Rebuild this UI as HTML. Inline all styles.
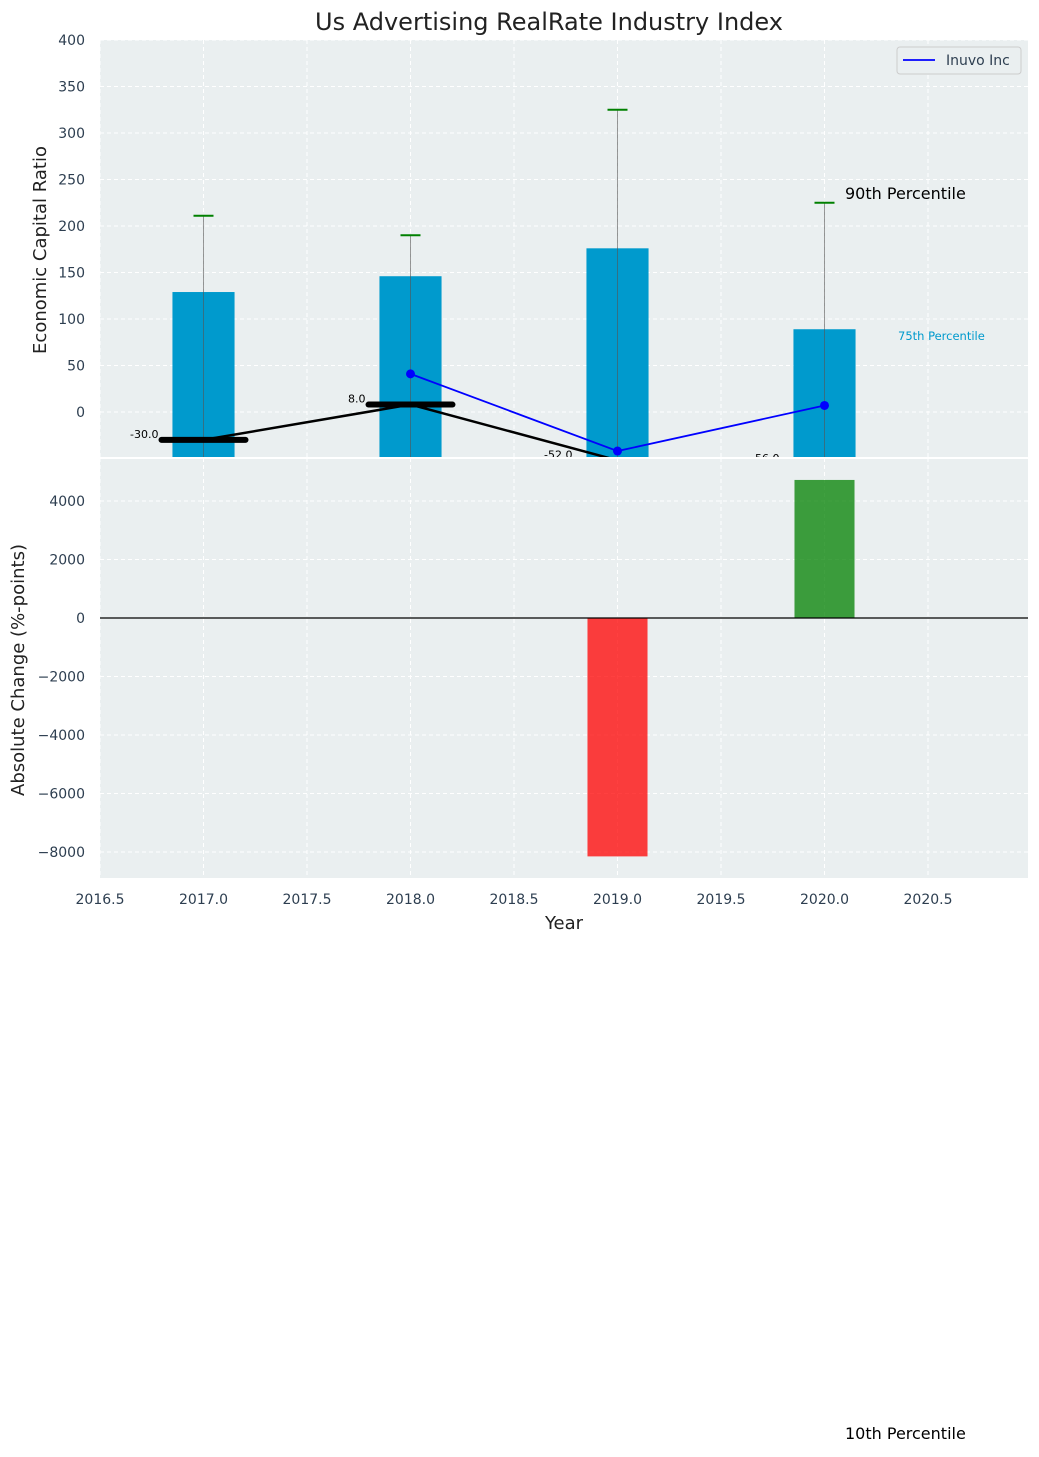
<!DOCTYPE html>
<html><head><meta charset="utf-8"><style>
body{margin:0;background:#fff;font-family:"Liberation Sans","DejaVu Sans",sans-serif}
svg text{font-family:"DejaVu Sans","Liberation Sans",sans-serif}
</style></head><body>
<svg id="c" width="1039" height="1452" xmlns="http://www.w3.org/2000/svg"></svg>
<script>
const years=[2017,2018,2019,2020];
const barVals=[129,146,176,89];
const p90=[211,190,325,225];
const medianYears=[2017,2018,2019,2020];
const medianVals=[-30,8,-52,-56];
const inuvoYears=[2018,2019,2020];
const inuvoVals=[41,-42,7];
const changeYears=[2019,2020];
const changeVals=[-8150,4720];
const xTicks=[2016.5,2017,2017.5,2018,2018.5,2019,2019.5,2020,2020.5];
const yTicksTop=[0,50,100,150,200,250,300,350,400];
const yTicksBot=[-8000,-6000,-4000,-2000,0,2000,4000];

const NS="http://www.w3.org/2000/svg";
const svg=document.getElementById('c');
const L=100,R=1028,T1=40,B1=458,T2=458,B2=878;
const x=v=>100+(v-2016.5)*207;
const y1=v=>412-v*0.93;
const y2=v=>618-v*(117/4000);
function mk(tag,a,parent){const e=document.createElementNS(NS,tag);for(const k in a)e.setAttribute(k,a[k]);(parent||svg).appendChild(e);return e;}
function tx(s,a,parent){const e=mk('text',a,parent);e.textContent=s;return e;}
const defs=mk('defs',{});
const c1=mk('clipPath',{id:'c1'},defs);mk('rect',{x:L,y:T1,width:R-L,height:457-T1},c1);
const c2=mk('clipPath',{id:'c2'},defs);mk('rect',{x:L,y:T2,width:R-L,height:B2-T2},c2);

let bg1=mk('rect',{x:L,y:T1,width:R-L,height:B1-T1,fill:'#eaeff0'});


let bg2=mk('rect',{x:L,y:T2,width:R-L,height:B2-T2,fill:'#eaeff0'});



xTicks.forEach(t=>{
  mk('line',{x1:x(t),x2:x(t),y1:T1,y2:B1,stroke:'#fff','stroke-dasharray':'4,3','stroke-width':1});
  mk('line',{x1:x(t),x2:x(t),y1:T2,y2:B2,stroke:'#fff','stroke-dasharray':'4,3','stroke-width':1});
  const l=tx(t.toFixed(1),{x:x(t),y:904,'font-size':14,fill:'#2d3e50','text-anchor':'middle'});
  
  
});
yTicksTop.forEach(t=>{
  mk('line',{x1:L,x2:R,y1:y1(t),y2:y1(t),stroke:'#fff','stroke-dasharray':'4,3'});
  const l=tx(String(t),{x:85,y:y1(t)+5,'font-size':14,fill:'#2d3e50','text-anchor':'end'});
  
  
});
yTicksBot.forEach(t=>{
  mk('line',{x1:L,x2:R,y1:y2(t),y2:y2(t),stroke:'#fff','stroke-dasharray':'4,3'});
  const l=tx(String(t).replace('-','\u2212'),{x:85,y:y2(t)+5,'font-size':14,fill:'#2d3e50','text-anchor':'end'});
  
  
});
mk('line',{x1:L,x2:R,y1:458,y2:458,stroke:'#fff','stroke-width':2});

const g1=mk('g',{'clip-path':'url(#c1)'});
years.forEach((yr,i)=>{
  const b=mk('rect',{x:x(yr-0.15),y:y1(barVals[i]),width:0.3*207,height:y1(-60)-y1(barVals[i]),fill:'#009acd'},g1);
  
  
  const e=mk('line',{x1:x(yr),x2:x(yr),y1:y1(p90[i]),y2:y1(-60),stroke:'#555','stroke-width':1,opacity:0.6},g1);
  
  
  const cap=mk('line',{x1:x(yr)-10,x2:x(yr)+10,y1:y1(p90[i]),y2:y1(p90[i]),stroke:'#008000','stroke-width':2},g1);
  
  
});
let mp=medianYears.map((yr,i)=>x(yr)+','+y1(medianVals[i])).join(' ');
const ml=mk('polyline',{points:mp,fill:'none',stroke:'#000','stroke-width':2.5},g1);


medianYears.forEach((yr,i)=>{
  const m=mk('line',{x1:x(yr)-42,x2:x(yr)+42,y1:y1(medianVals[i]),y2:y1(medianVals[i]),stroke:'#000','stroke-width':6,'stroke-linecap':'round'},g1);
  
  
  const t=tx(medianVals[i].toFixed(1),{x:x(yr)-45,y:y1(medianVals[i])-2,'font-size':11,fill:'#000','text-anchor':'end'},g1);
  
  
});
const ip=inuvoYears.map((yr,i)=>x(yr)+','+y1(inuvoVals[i])).join(' ');
const il=mk('polyline',{points:ip,fill:'none',stroke:'#0000ff','stroke-width':1.8},g1);


inuvoYears.forEach((yr,i)=>{
  const d=mk('circle',{cx:x(yr),cy:y1(inuvoVals[i]),r:4.5,fill:'#0000ff'},g1);
  
  
});
let a1=tx('90th Percentile',{x:845,y:199,'font-size':16,fill:'#000'});


let a2=tx('75th Percentile',{x:898,y:340,'font-size':11.5,fill:'#009acd'});


let a3=tx('10th Percentile',{x:845,y:1439,'font-size':16,fill:'#000'});



const lg=mk('g',{});


mk('rect',{x:897,y:47,width:124,height:27,rx:3,fill:'#eaeff0',stroke:'#ccc'},lg);
mk('line',{x1:903,x2:935,y1:60,y2:60,stroke:'#0000ff','stroke-width':1.8},lg);
tx('Inuvo Inc',{x:946,y:65,'font-size':14,fill:'#2d3e50'},lg);

const g2=mk('g',{'clip-path':'url(#c2)'});
changeYears.forEach((yr,i)=>{
  const v=changeVals[i];
  const r=mk('rect',{x:x(yr-0.145),y:Math.min(y2(v),y2(0)),width:0.29*207,height:Math.abs(y2(v)-y2(0)),fill:v<0?'#ff0000':'#008000',opacity:0.75},g2);
  
  
});
mk('line',{x1:L,x2:R,y1:y2(0),y2:y2(0),stroke:'#000','stroke-width':1.2});

let t=tx('Us Advertising RealRate Industry Index',{x:549,y:30,'font-size':24,fill:'#222','text-anchor':'middle'});


let yt=tx('Economic Capital Ratio',{x:0,y:0,'font-size':18,fill:'#222','text-anchor':'middle',transform:'translate(46,250) rotate(-90)'});


let yb=tx('Absolute Change (%-points)',{x:0,y:0,'font-size':18,fill:'#222','text-anchor':'middle',transform:'translate(24,670) rotate(-90)'});


let xt=tx('Year',{x:564,y:929,'font-size':18,fill:'#222','text-anchor':'middle'});


</script>
</body></html>
